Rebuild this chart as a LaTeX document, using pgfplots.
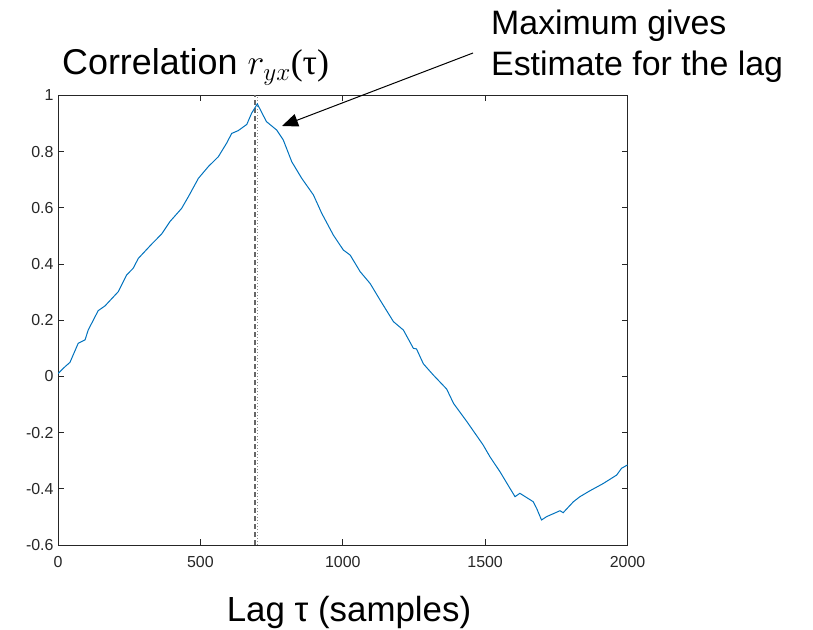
\RequirePackage{fix-cm}
\documentclass[border=0pt]{standalone}
\usepackage{fontspec}
\setmainfont{Liberation Sans}
\newfontfamily\seriffont{Liberation Serif}
\usepackage{pgfplots}
\pgfplotsset{compat=1.18}
\usetikzlibrary{arrows.meta}
\definecolor{mblue}{rgb}{0,0.447,0.741}
\begin{document}
\begin{tikzpicture}[x=1bp,y=1bp]
\useasboundingbox (0,0) rectangle (813,630);
\begin{axis}[
  at={(58bp,85bp)}, anchor=south west,
  scale only axis, width=569.5bp, height=449.5bp,
  xmin=0, xmax=2000, ymin=-0.6, ymax=1,
  xtick={0,500,1000,1500,2000},
  ytick={-0.6,-0.4,-0.2,0,0.2,0.4,0.6,0.8,1},
  yticklabels={-0.6,-0.4,-0.2,0,0.2,0.4,0.6,0.8,1},
  xticklabels={0,500,1000,1500,2000},
  tick align=inside,
  major tick length=6bp,
  axis line style={black!85, line width=0.8bp},
  every tick/.style={black!85, line width=0.8bp},
  ticklabel style={font=\fontsize{16}{19}\selectfont, text=black!85},
  xticklabel style={yshift=-8bp},
  yticklabel style={xshift=-1bp},
  /pgf/number format/assume math mode=true,
]
\addplot[black!60, line width=1.6bp, dash pattern=on 5bp off 3bp] coordinates {(692,-0.6) (692,1)};
\addplot[black!45, line width=0.7bp, dash pattern=on 1bp off 2bp] coordinates {(700,-0.6) (700,1)};
\addplot[mblue, line width=1bp] coordinates {
(0,0.010) (25,0.035) (42,0.050) (71,0.118) (85,0.125) (95,0.130) (106,0.165)
(141,0.234) (165,0.251) (212,0.302) (241,0.361) (264,0.385) (282,0.420)
(329,0.471) (364,0.507) (393,0.551) (434,0.598) (458,0.640) (493,0.705)
(528,0.747) (563,0.782) (592,0.830) (610,0.865) (633,0.875) (663,0.897)
(680,0.937) (700,0.970) (732,0.907) (768,0.877) (791,0.842) (821,0.764)
(856,0.705) (897,0.646) (926,0.581) (967,0.503) (1002,0.450) (1026,0.432)
(1061,0.373) (1096,0.331) (1131,0.272) (1178,0.195) (1213,0.165) (1248,0.100)
(1259,0.098) (1283,0.045) (1318,0.005) (1365,-0.045) (1389,-0.096) (1436,-0.161)
(1493,-0.244) (1517,-0.286) (1552,-0.339) (1587,-0.398) (1605,-0.428) (1622,-0.416)
(1669,-0.446) (1681,-0.470) (1698,-0.511) (1716,-0.499) (1763,-0.478) (1774,-0.485)
(1810,-0.446) (1833,-0.428) (1868,-0.407) (1915,-0.381) (1962,-0.351) (1979,-0.327)
(2000,-0.315)};
\end{axis}
\node[anchor=base west, inner sep=0, font=\fontsize{36}{43}\selectfont] at (62,555) {Correlation $r_{yx}${\seriffont(τ)}};
\node[anchor=base west, inner sep=0, font=\fontsize{34}{40}\selectfont] at (491,595) {Maximum gives};
\node[anchor=base west, inner sep=0, font=\fontsize{34}{40}\selectfont] at (491,554) {Estimate for the lag};
\node[anchor=base, inner sep=0, font=\fontsize{35}{42}\selectfont] at (349,8) {Lag τ (samples)};
\draw[-{Triangle[length=16bp,width=13bp]}, line width=1bp] (473,577) -- (282,504);
\end{tikzpicture}
\end{document}
